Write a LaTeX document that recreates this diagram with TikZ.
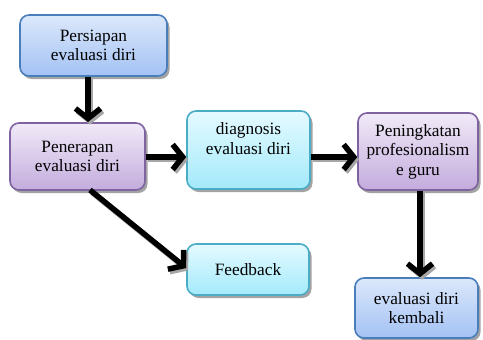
\documentclass[tikz,border=0pt]{standalone}
\usepackage{fontspec}
\setmainfont{Liberation Serif}
\usetikzlibrary{arrows.meta,shadows}
\begin{document}
\begin{tikzpicture}[x=1pt,y=-1pt,
  box/.style={draw, line width=1.6pt, rounded corners=9pt, align=center,
    font=\fontsize{17.3}{19.5}\selectfont, inner sep=0pt,
    drop shadow={shadow xshift=2.5pt, shadow yshift=-3pt, fill=black!45, opacity=0.8}},
  bluebox/.style={box, draw=blueB, top color=blueT, bottom color=blueM},
  purplebox/.style={box, draw=purpB, top color=purpT, bottom color=purpM},
  cyanbox/.style={box, draw=cyanB, top color=cyanT, bottom color=cyanM},
  flow/.style={line width=5.5pt, -{Straight Barb[length=10pt,width=25pt]},
    preaction={draw=black!35, line width=5.5pt, transform canvas={shift={(2pt,-2.5pt)}}}}
]
\definecolor{blueB}{HTML}{4A7EBB}
\definecolor{blueT}{HTML}{DCE8FB}
\definecolor{blueM}{HTML}{A3C2F4}
\definecolor{purpB}{HTML}{7E63A0}
\definecolor{purpT}{HTML}{F1EAF8}
\definecolor{purpM}{HTML}{C3ACDD}
\definecolor{cyanB}{HTML}{4AACC5}
\definecolor{cyanT}{HTML}{E4FAFF}
\definecolor{cyanM}{HTML}{A4EAFB}
\useasboundingbox (0,0) rectangle (483,340);

\node[bluebox, minimum width=147pt, minimum height=61pt] (a) at (93.5,45.5) {Persiapan\\evaluasi diri};
\node[purplebox, minimum width=135pt, minimum height=67pt] (b) at (77.5,156.5) {Penerapan\\evaluasi diri};
\node[cyanbox, minimum width=123pt, minimum height=78pt] (c) at (248.5,150) {diagnosis\\evaluasi diri\\[4pt]};
\node[purplebox, minimum width=120pt, minimum height=77pt] (d) at (418,151.5) {Peningkatan\\profesionalism\\e guru};
\node[cyanbox, minimum width=122pt, minimum height=51pt] (e) at (248,269.5) {Feedback};
\node[bluebox, minimum width=123pt, minimum height=60pt] (f) at (416.5,308) {evaluasi diri\\kembali};

\draw[flow] (a.south -| 88,0) -- (88,122);
\draw[flow] (b.east |- 0,157) -- (c.west |- 0,157);
\draw[flow] (c.east |- 0,157) -- (d.west |- 0,157);
\draw[flow] (d.south -| 420,0) -- (f.north -| 420,0);
\draw[flow] (90,190) -- (e.west |- 0,268);
\end{tikzpicture}
\end{document}
